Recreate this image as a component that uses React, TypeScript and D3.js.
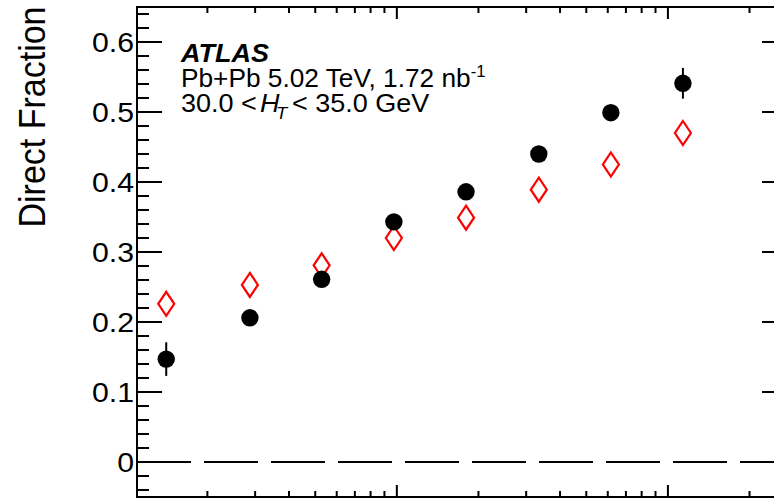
import React from 'react';
import * as d3 from 'd3';

// bin centres (log x axis, labels cropped in the reference)
const xValues = [1.41, 2.87, 5.28, 9.75, 18.0, 33.4, 61.6, 113.6];
const directFrac = [0.147, 0.206, 0.261, 0.343, 0.386, 0.44, 0.499, 0.541];
const directErr = [0.024, 0.008, 0.007, 0.008, 0.008, 0.008, 0.008, 0.022];
const refFrac = [0.226, 0.253, 0.281, 0.32, 0.349, 0.389, 0.425, 0.47];
const yMajorTicks = [0, 0.1, 0.2, 0.3, 0.4, 0.5, 0.6];
const yTickLabels = ['0', '0.1', '0.2', '0.3', '0.4', '0.5', '0.6'];

const W = 774;
const H = 500;
const left = 137;
const right = 787;
const top = 7;
const bottom = 497;
const font = '"Liberation Sans", Arial, Helvetica, sans-serif';
const sx = 1.08;

const App = () => {
  const x = d3.scaleLog().domain([1.1, 275]).range([left, right]);
  const y = d3.scaleLinear().domain([-0.05, 0.65]).range([bottom, top]);

  const xTicks = x.ticks();
  const isMajorX = (v: number) => Math.abs(Math.log10(v) - Math.round(Math.log10(v))) < 1e-6;
  const yMinor = d3.range(-4, 65, 2).map(d => d / 100);

  const diamond = (cx: number, cy: number) =>
    `M${cx},${cy - 12}L${cx + 8},${cy}L${cx},${cy + 12}L${cx - 8},${cy}Z`;

  const tx = (px: number, py: number, s = sx) => `translate(${px},${py}) scale(${s},1)`;

  return (
    <svg width={W} height={H} style={{ position: 'absolute', left: 0, top: 0 }}>
      <rect x={0} y={0} width={W} height={H} fill="white" />

      {/* zero line */}
      <line x1={left} x2={right} y1={y(0)} y2={y(0)} stroke="black" strokeWidth={2} strokeDasharray="54,13" />

      {/* y ticks */}
      {yMinor.map((v, i) => {
        const major = yMajorTicks.some(m => Math.abs(m - v) < 1e-6);
        const len = major ? 25 : 12;
        return (
          <g key={'y' + i}>
            <line x1={left} x2={left + len} y1={y(v)} y2={y(v)} stroke="black" strokeWidth={2} />
            <line x1={right - len} x2={right} y1={y(v)} y2={y(v)} stroke="black" strokeWidth={2} />
          </g>
        );
      })}

      {/* x ticks */}
      {xTicks.map((v, i) => {
        const len = isMajorX(v) ? 12 : 6;
        return (
          <g key={'x' + i}>
            <line x1={x(v)} x2={x(v)} y1={bottom} y2={bottom - len} stroke="black" strokeWidth={2} />
            <line x1={x(v)} x2={x(v)} y1={top} y2={top + len} stroke="black" strokeWidth={2} />
          </g>
        );
      })}

      <rect x={left} y={top} width={right - left} height={bottom - top} fill="none" stroke="black" strokeWidth={2} />

      {/* y tick labels */}
      {yMajorTicks.map((v, i) => (
        <text key={'yl' + i} transform={tx(134, y(v) + 10)} textAnchor="end"
          fontFamily={font} fontSize={28}>{yTickLabels[i]}</text>
      ))}

      <text transform={`translate(45,117) scale(${sx},1) rotate(-90)`} textAnchor="middle"
        fontFamily={font} fontSize={34}>Direct Fraction</text>

      {/* reference diamonds */}
      {xValues.map((v, i) => (
        <path key={'d' + i} d={diamond(x(v), y(refFrac[i]))} fill="none" stroke="#ff0000" strokeWidth={2.2} />
      ))}

      {/* data points */}
      {xValues.map((v, i) => (
        <g key={'p' + i}>
          <line x1={x(v)} x2={x(v)} y1={y(directFrac[i] - directErr[i])} y2={y(directFrac[i] + directErr[i])}
            stroke="black" strokeWidth={2} />
          <circle cx={x(v)} cy={y(directFrac[i])} r={8.7} fill="black" />
        </g>
      ))}

      {/* labels */}
      <g fontFamily={font} fontSize={25}>
        <text transform={tx(181, 62)} fontWeight="bold" fontStyle="italic">ATLAS</text>
        <text transform={tx(181, 87, 1.05)}>
          Pb+Pb 5.02 TeV, 1.72 nb<tspan fontSize={16} dy={-10}>-1</tspan>
        </text>
        <text transform={tx(181, 112)}>30.0 &lt;</text>
        <text transform={tx(260, 112)} fontStyle="italic">H</text>
        <text transform={tx(276, 119)} fontStyle="italic" fontSize={17}>T</text>
        <text transform={tx(292, 112)}>&lt; 35.0 GeV</text>
      </g>
    </svg>
  );
};

export default App;
